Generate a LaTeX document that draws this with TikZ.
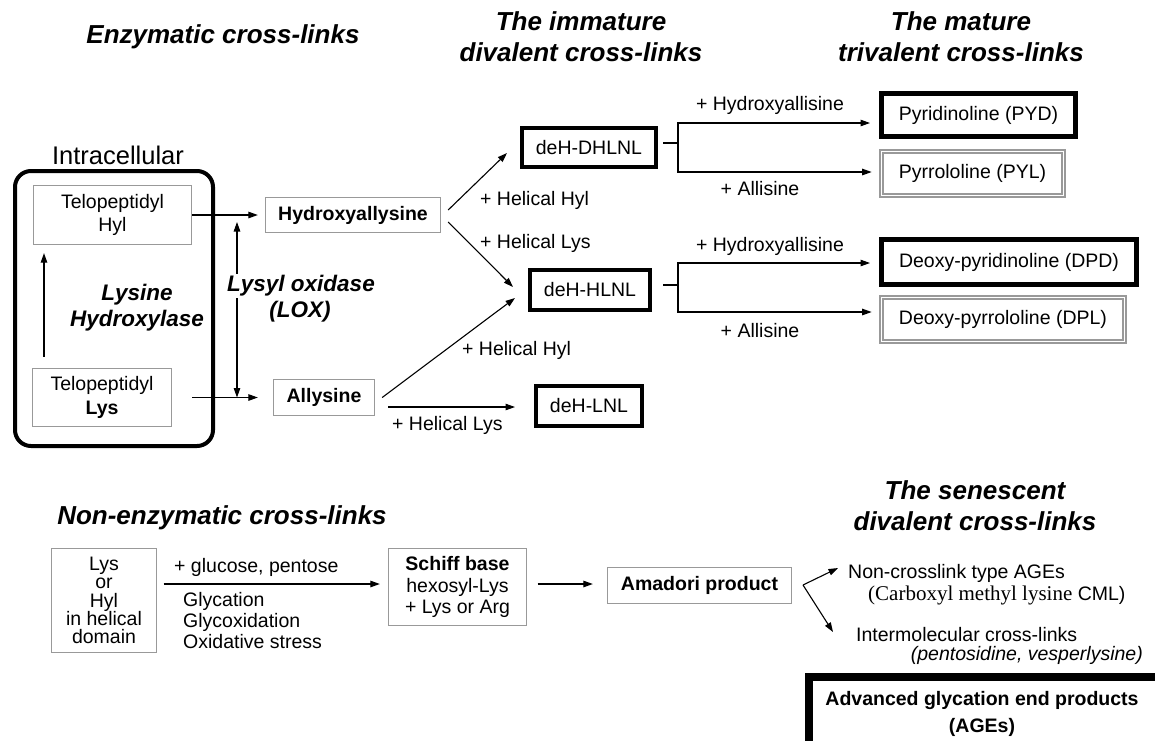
\documentclass[tikz,border=0pt]{standalone}
\usepackage{fontspec}
\setmainfont{Liberation Sans}
\newfontfamily\timesf{Liberation Serif}
\usetikzlibrary{arrows.meta}
\tikzset{
  gbox/.style={draw=gray!80, line width=1.3pt, inner sep=0pt, align=center, fill=white},
  kbox/.style={draw=black, line width=4pt, inner sep=0pt, align=center},
  pbox/.style={draw=black, line width=5pt, inner sep=0pt},
  dbox/.style={draw=gray!80, double=white, double distance=1.6pt, line width=1.7pt, inner sep=0pt},
  arr/.style={line width=1.1pt, -{Triangle[length=9.5pt,width=6.5pt]}},
  biarr/.style={line width=1.1pt, {Triangle[length=9.5pt,width=6.5pt]}-{Triangle[length=9.5pt,width=6.5pt]}},
  ln/.style={line width=1.1pt},
  lbl/.style={inner sep=0pt},
  bftext/.style={font=\fontsize{19.5}{23.4}\selectfont\bfseries},
  ttl/.style={font=\fontsize{26}{31}\selectfont\bfseries\itshape, align=center},
  enz/.style={font=\fontsize{22.5}{25.5}\selectfont\bfseries\itshape, align=center},
}
\begin{document}
\begin{tikzpicture}[x=1pt,y=-1pt,font=\fontsize{19.5}{23.4}\selectfont]
\useasboundingbox (0,0) rectangle (1155,740);
\clip (0,0) rectangle (1155,740);
% titles
\node[ttl] (t1) at (223,37) {Enzymatic cross-links};
\node[ttl] (t2) at (581,37) {The immature\\divalent cross-links};
\node[ttl] (t3) at (961,37) {The mature\\trivalent cross-links};
\node[ttl] (t4) at (222,518) {Non-enzymatic cross-links};
\node[ttl] (t5) at (975,506) {The senescent\\divalent cross-links};

% intracellular
\node[font=\fontsize{25.5}{30}\selectfont] (intl) at (118,155) {Intracellular};
\node[draw, line width=4pt, rounded corners=16pt, minimum width=198pt, minimum height=275pt] (cell) at (114,308.5) {};
\node[gbox, minimum width=158pt, minimum height=59pt] (thyl) at (112.5,215) {Telopeptidyl\\Hyl};
\node[gbox, minimum width=139pt, minimum height=58pt] (tlys) at (102,397.5) {Telopeptidyl\\\textbf{Lys}};
\node[enz] (lhyd) at (137,307.5) {Lysine\\Hydroxylase};
\coordinate (ux) at (44,0);
\draw[arr, shorten <=11pt, shorten >=8pt] (tlys.north -| ux) -- (thyl.south -| ux);

% first products
\node[gbox, bftext, minimum width=175pt, minimum height=35pt] (hyal) at (353,215) {Hydroxyallysine};
\node[gbox, bftext, minimum width=101pt, minimum height=36pt] (ally) at (324,397.5) {Allysine};
\draw[arr, shorten >=7pt] (thyl.east) -- (hyal.west);
\draw[arr, shorten <=20pt, shorten >=15pt] (tlys.east) -- (ally.west);

% lysyl oxidase
\coordinate (lox1) at (237,215);
\coordinate (lox2) at (237,397.5);
\draw[biarr, shorten <=7pt] (lox1) -- (lox2);
\node[enz, fill=white, inner sep=2pt] (lox) at (301,286) {Lysyl oxidase};
\node[enz] (loxb) at (300,312) {(LOX)};

% divalent
\node[kbox, minimum width=134pt, minimum height=39pt] (dhlnl) at (589,147.5) {deH-DHLNL};
\node[kbox, minimum width=120pt, minimum height=40pt] (hlnl) at (590,290) {deH-HLNL};
\node[kbox, minimum width=106pt, minimum height=40pt] (lnl) at (589,406) {deH-LNL};

\draw[arr] ([xshift=7pt,yshift=5pt]hyal.east) -- ([xshift=-13pt,yshift=-5.5pt]dhlnl.west);
\draw[arr] ([xshift=7pt,yshift=-7pt]hyal.east) -- ([xshift=-15pt,yshift=3pt]hlnl.west);
\draw[arr] ([xshift=7pt]ally.east) -- ([xshift=-13pt,yshift=-8pt]hlnl.west);
\draw[arr] ([xshift=13pt,yshift=-9.5pt]ally.east) -- ([xshift=-19pt,yshift=-1pt]lnl.west);

\node[lbl, anchor=west] (l1) at (480,200) {+ Helical Hyl};
\node[lbl, anchor=west] (l2) at (480,243) {+ Helical Lys};
\node[lbl, anchor=west] (l3) at (462,350) {+ Helical Hyl};
\node[lbl, anchor=west] (l4) at (392,425) {+ Helical Lys};

% trivalent
\node[pbox, minimum width=194pt, minimum height=43pt] (pyd) at (978.5,115) {Pyridinoline (PYD)};
\node[dbox, minimum width=182pt, minimum height=44pt] (pyl) at (972.5,173.5) {Pyrrololine (PYL)};
\node[pbox, minimum width=255pt, minimum height=45pt] (dpd) at (1009,262) {Deoxy-pyridinoline (DPD)};
\node[dbox, minimum width=243pt, minimum height=44pt] (dpl) at (1003,319.5) {Deoxy-pyrrololine (DPL)};

\coordinate (b1) at (678,143);
\coordinate (b2) at (678,285);
\draw[ln, shorten <=5pt] ([yshift=4.5pt]dhlnl.east) -- (b1);
\draw[arr] (b1) |- ([xshift=-9pt,yshift=-8pt]pyd.west);
\draw[arr] (b1) |- ([xshift=-9pt,yshift=1.5pt]pyl.west);
\draw[ln, shorten <=11pt] ([yshift=5pt]hlnl.east) -- (b2);
\draw[arr] (b2) |- ([xshift=-9pt,yshift=-1pt]dpd.west);
\draw[arr] (b2) |- ([xshift=-9pt,yshift=7.5pt]dpl.west);

\node[lbl] (h1) at (770,105) {+ Hydroxyallisine};
\node[lbl] (a1) at (760,189) {+ Allisine};
\node[lbl] (h2) at (770,246) {+ Hydroxyallisine};
\node[lbl] (a2) at (760,331) {+ Allisine};

% non-enzymatic
\node[gbox, minimum width=105pt, minimum height=104pt, font=\fontsize{19.5}{18.2}\selectfont] (lh2) at (104,600.5) {Lys\\or\\Hyl\\in helical\\domain};
\node[gbox, minimum width=138pt, minimum height=77pt, font=\fontsize{19.5}{21.5}\selectfont] (sb) at (457.5,587) {\textbf{Schiff base}\\hexosyl-Lys\\+ Lys or Arg};
\node[gbox, bftext, minimum width=184pt, minimum height=36pt] (am) at (699.5,585.5) {Amadori product};
\draw[arr] ([xshift=6.5pt,yshift=16.5pt]lh2.east) -- ([xshift=-8pt,yshift=3pt]sb.west);
\node[lbl, anchor=west] (gp) at (174,567) {+ glucose, pentose};
\node[lbl, anchor=west, align=left, font=\fontsize{19.5}{21}\selectfont] (gly) at (183,621) {Glycation\\Glycoxidation\\Oxidative stress};
\draw[arr] ([xshift=10.5pt,yshift=3pt]sb.east) -- ([xshift=-14pt,yshift=1.5pt]am.west);

\node[lbl, anchor=west] (nc) at (848,573) {Non-crosslink type AGEs};
\node[lbl, anchor=west] (cml) at (868,595) {{\timesf\fontsize{21}{24}\selectfont (Carboxyl methyl lysine} CML)};
\node[lbl, anchor=west] (im) at (856,635) {Intermolecular cross-links};
\node[lbl, anchor=east, font=\fontsize{19.5}{23.4}\selectfont\itshape] (pv) at (1143,655) {(pentosidine, vesperlysine)};
\coordinate (amo) at (803,585);
\draw[arr] (amo) -- ([xshift=-10pt,yshift=5pt]nc.west);
\draw[arr] (amo) -- ([xshift=-23pt,yshift=3pt]im.west);

\node[draw=black, line width=8pt, inner sep=0pt, minimum width=361pt, minimum height=73pt] (ages) at (989.5,713.5)
  {\hspace*{-15pt}\fontsize{19.5}{27}\selectfont\bfseries\begin{tabular}{@{}c@{}}Advanced glycation end products\\(AGEs)\end{tabular}};
\end{tikzpicture}
\end{document}
